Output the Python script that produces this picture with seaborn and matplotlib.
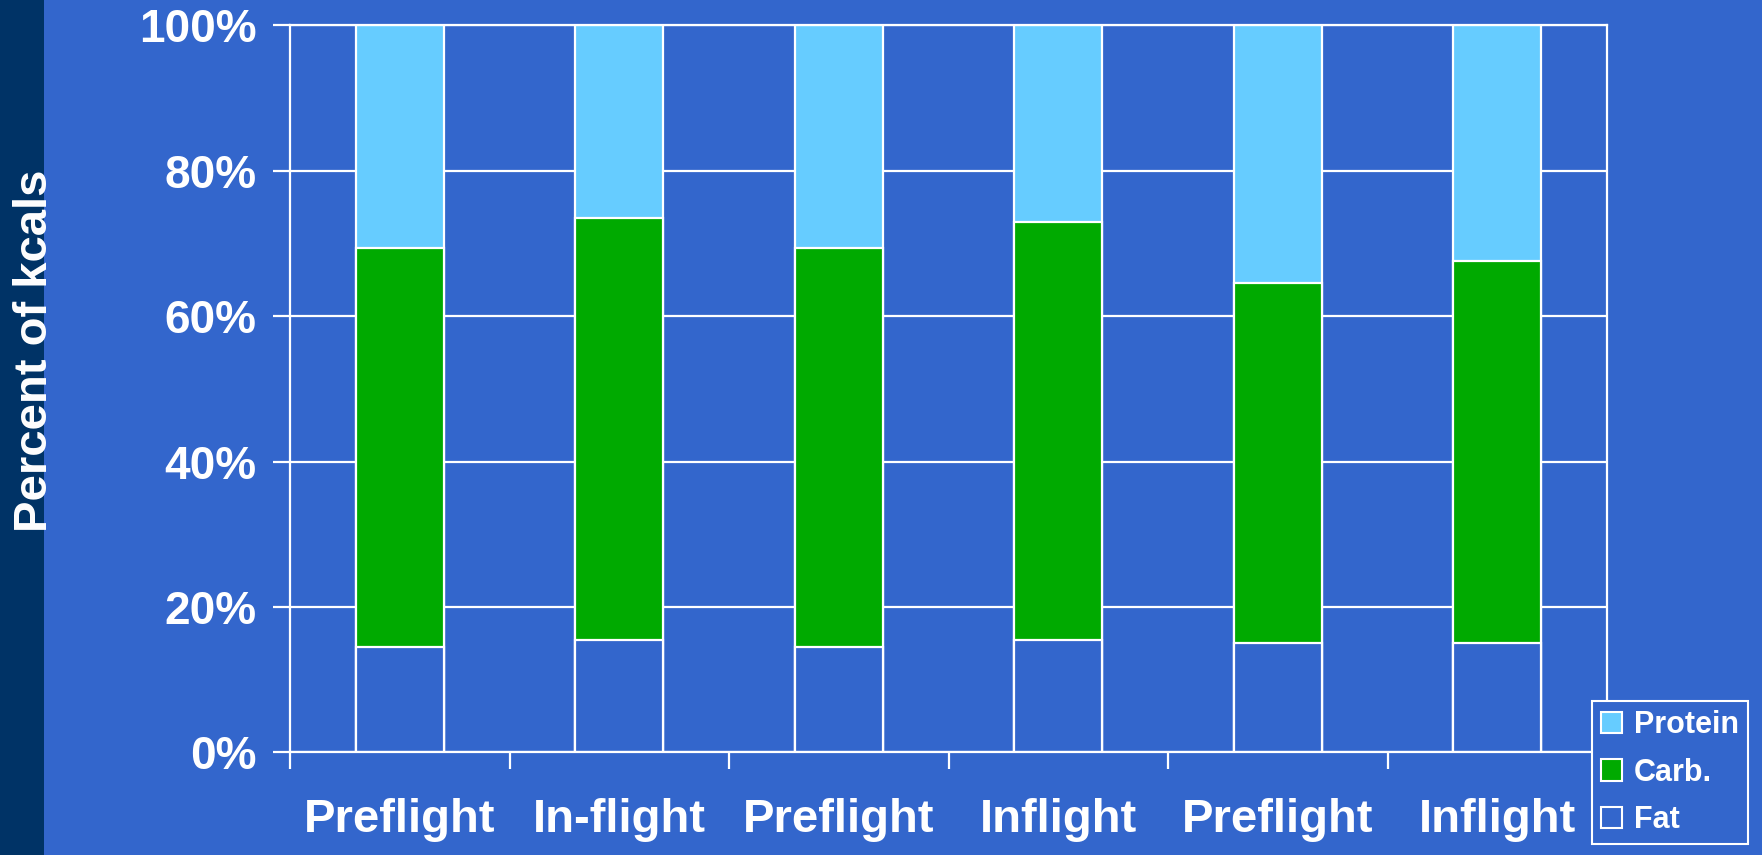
import matplotlib
matplotlib.use("Agg")
import matplotlib.pyplot as plt
from matplotlib.patches import Patch, Rectangle
from matplotlib.ticker import FixedLocator
import pandas as pd
import seaborn as sns

# Share of daily energy intake (percent of kcals) by macronutrient
categories = ["Preflight", "In-flight", "Preflight", "Inflight", "Preflight", "Inflight"]
fat = [14.5, 15.5, 14.5, 15.5, 15.0, 15.0]
carb = [54.9, 58.0, 54.9, 57.4, 49.6, 52.6]
protein = [30.6, 26.5, 30.6, 27.1, 35.4, 32.4]
series_names = ["Protein", "Carb.", "Fat"]
y_ticks = [0, 20, 40, 60, 80, 100]

BG = "#3366CC"
STRIP = "#003366"
GREEN = "#00AA00"
LIGHT = "#66CCFF"
WHITE = "white"

sns.set_theme(style="white", rc={
    "axes.facecolor": BG,
    "figure.facecolor": BG,
    "axes.edgecolor": WHITE,
    "grid.color": WHITE,
})
plt.rcParams["font.family"] = ["Liberation Sans", "DejaVu Sans"]
plt.rcParams["font.weight"] = "bold"

slots = list(range(len(categories)))
df = pd.DataFrame({
    "slot": slots,
    "fat": fat,
    "carb": carb,
    "protein": protein,
})
df["fat_top"] = df["fat"]
df["carb_top"] = df["fat"] + df["carb"]
df["protein_top"] = df["carb_top"] + df["protein"]

fig = plt.figure(figsize=(17.62, 8.55), dpi=100)
fig.patches.append(Rectangle((0, 0), 44 / 1762, 1, transform=fig.transFigure,
                             facecolor=STRIP, edgecolor="none", zorder=0))
ax = fig.add_axes([290 / 1762, 1 - 752.3 / 855, (1607 - 290) / 1762, (752.3 - 25.5) / 855])
ax.set_axisbelow(True)

lw = 1.6
bar_kw = dict(x="slot", order=slots, width=0.4, edgecolor=WHITE, linewidth=lw,
              saturation=1, ax=ax, errorbar=None)
sns.barplot(data=df, y="protein_top", color=LIGHT, **bar_kw)
sns.barplot(data=df, y="carb_top", color=GREEN, **bar_kw)
sns.barplot(data=df, y="fat_top", color=BG, **bar_kw)

ax.set_xlim(-0.5, len(categories) - 0.5)
ax.set_ylim(0, 100)
ax.set_xlabel("")
ax.set_ylabel("")

# category labels at centres, tick marks at category boundaries
ax.set_xticks(slots)
ax.set_xticklabels(categories, fontsize=34, fontweight="bold", color=WHITE)
ax.xaxis.set_minor_locator(FixedLocator([s - 0.5 for s in slots] + [slots[-1] + 0.5]))
ax.tick_params(axis="x", which="major", length=0, pad=33)
ax.tick_params(axis="x", which="minor", length=12, width=lw, color=WHITE, bottom=True)
ax.xaxis.grid(False, which="both")

ax.set_yticks(y_ticks)
ax.set_yticklabels([f"{v}%" for v in y_ticks], fontsize=33, fontweight="bold", color=WHITE)
ax.tick_params(axis="y", which="major", length=12, width=lw, color=WHITE, left=True, pad=12)
ax.yaxis.grid(True, color=WHITE, linewidth=lw)

for side in ["left", "bottom", "top", "right"]:
    ax.spines[side].set_visible(True)
    ax.spines[side].set_color(WHITE)
    ax.spines[side].set_linewidth(lw)

fig.text(35 / 1762, 1 - 351 / 855, "Percent of kcals", rotation=90, ha="center",
         va="center", fontsize=34, fontweight="bold", color=WHITE)

handles = [Patch(facecolor=c, edgecolor=WHITE, linewidth=1.5) for c in (LIGHT, GREEN, BG)]
leg = fig.legend(handles, series_names, loc="lower left",
                 bbox_to_anchor=(1592 / 1762, 1 - 844 / 855), bbox_transform=fig.transFigure,
                 borderaxespad=0, frameon=True, fancybox=False, facecolor=BG,
                 edgecolor=WHITE, framealpha=1, fontsize=22, handlelength=0.7,
                 handleheight=0.7, handletextpad=0.4, labelspacing=0.58, borderpad=0.28)
leg.get_frame().set_linewidth(1.5)
for t in leg.get_texts():
    t.set_color(WHITE)
    t.set_fontweight("bold")

fig.savefig("out.png", dpi=100, facecolor=BG)
